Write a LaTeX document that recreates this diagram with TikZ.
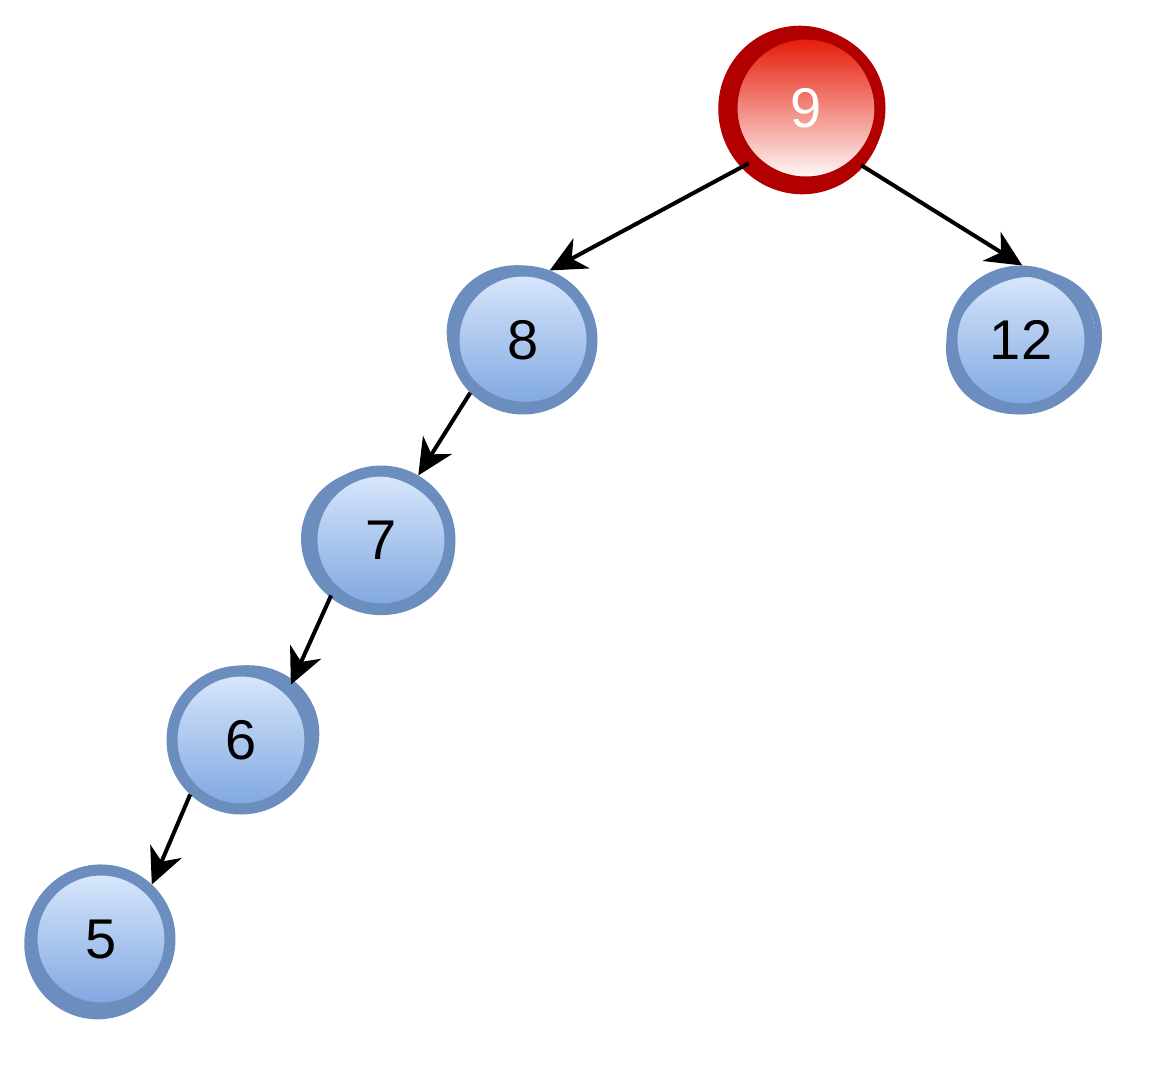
\documentclass[tikz,border=0pt]{standalone}
\usepackage{fontspec}
\setmainfont{Liberation Sans}
\usetikzlibrary{arrows.meta}
\definecolor{bfill1}{HTML}{DAE8FC}
\definecolor{bfill2}{HTML}{7EA6E0}
\definecolor{bstroke}{HTML}{6C8EBF}
\definecolor{rfill1}{HTML}{E51400}
\definecolor{rstroke}{HTML}{B20000}
\tikzset{
  bnode/.style={circle, minimum size=138pt, inner sep=0pt, line width=11pt, draw=bstroke,
    top color=bfill1, bottom color=bfill2, font=\fontsize{56}{60}\selectfont, text=black},
  rnode/.style={circle, minimum size=148pt, inner sep=0pt, line width=11pt, draw=rstroke,
    top color=rfill1, bottom color=white, font=\fontsize{56}{60}\selectfont, text=white},
  edge/.style={line width=4pt, -{Stealth[length=36pt,width=34pt,inset=11pt]}},
  wob/.style={line width=7pt, draw=bstroke},
  rwob/.style={line width=9pt, draw=rstroke},
}
\begin{document}
\begin{tikzpicture}[x=1pt,y=-1pt]
\useasboundingbox (0,0) rectangle (1152,1072);
\node[rnode] (n9) at (806,108) {9};
\node[bnode] (n8) at (523,340) {8};
\node[bnode] (n12) at (1021,340) {12};
\node[bnode] (n7) at (381,540) {7};
\node[bnode] (n6) at (241,740) {6};
\node[bnode] (n5) at (101,939) {5};
% sketchy second strokes
\draw[rwob] ([shift={(-5,2)}]n9.center) ellipse [x radius=78, y radius=80, rotate=20];
\draw[wob] ([shift={(-2,-3)}]n8.center) ellipse [x radius=72, y radius=67, rotate=-30];
\draw[wob] ([shift={(3,2)}]n12.center) ellipse [x radius=76, y radius=67, rotate=25];
\draw[wob] ([shift={(-3,2)}]n7.center) ellipse [x radius=74, y radius=69, rotate=-20];
\draw[wob] ([shift={(3,-2)}]n6.center) ellipse [x radius=73, y radius=68, rotate=30];
\draw[wob] ([shift={(-2,3)}]n5.center) ellipse [x radius=71, y radius=74, rotate=-15];
% edges
\draw[edge] (n9.224) -- (n8.69);
\draw[edge] (n9.314) -- (n12.89);
\draw[edge] (n8.225) -- (n7.60);
\draw[edge] (n7.228) -- (n6.48);
\draw[edge] (n6.227) -- (n5.47);
\end{tikzpicture}
\end{document}
